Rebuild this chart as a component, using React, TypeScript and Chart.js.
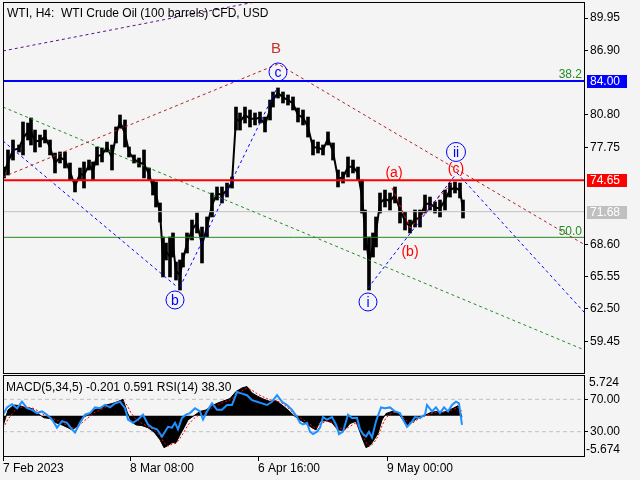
import React, { useEffect, useRef } from "react";
import { Chart, registerables } from "chart.js";

Chart.register(...registerables);

const FONT = "'Liberation Sans', Arial, sans-serif";
const BG = "#f4f4f4";

// ---------- shared time axis (H4 bar index from the left edge) ----------
const X_MAX = 581;
const timeTickIndex = [0, 127, 255, 384];
const timeTickLabels = ["7 Feb 2023", "8 Mar 08:00", "6 Apr 16:00", "9 May 00:00"];

// ---------- price bars ----------
const priceIndex = [1, 5, 10, 16, 20, 25, 28, 32, 37, 42, 47, 52, 57, 62, 67, 72, 77, 81, 86, 90, 94, 99, 104, 109, 113, 117, 122, 126, 131, 136, 141, 146, 150, 153, 157, 160, 163, 167, 170, 173, 177, 180, 184, 189, 194, 199, 204, 209, 214, 219, 224, 229, 233, 237, 242, 247, 252, 257, 262, 267, 270, 275, 280, 285, 290, 295, 300, 305, 310, 315, 320, 325, 330, 335, 340, 345, 350, 355, 359, 362, 366, 370, 373, 377, 382, 387, 392, 397, 402, 407, 412, 417, 422, 427, 432, 437, 442, 447, 452, 457, 460];
const priceHigh = [75.89, 77.5, 78.44, 77.97, 80.14, 80.04, 80.52, 79.38, 78.91, 79.38, 78.44, 77.21, 77.31, 77.31, 76.27, 74.67, 75.8, 76.37, 76.55, 76.37, 77.78, 77.69, 78.25, 77.97, 79.67, 80.8, 80.33, 77.78, 77.03, 76.74, 77.5, 75.8, 74.67, 74.48, 72.5, 69.29, 68.72, 69.29, 69.67, 66.93, 67.12, 67.78, 69.67, 70.89, 71.55, 70.23, 71.18, 73.44, 74.01, 74.01, 74.38, 74.95, 81.55, 80.99, 81.55, 81.27, 80.99, 81.08, 80.61, 82.21, 82.97, 83.35, 82.97, 82.69, 82.5, 81.46, 81.27, 80.61, 78.44, 78.25, 77.97, 79.2, 78.16, 75.61, 75.42, 76.84, 76.55, 75.89, 74.67, 71.84, 69.29, 69.67, 71.18, 73.44, 73.72, 73.44, 74.01, 73.06, 71.65, 70.89, 71.84, 71.84, 73.25, 73.06, 72.59, 72.78, 73.72, 74.38, 74.48, 74.38, 72.78];
const priceLow = [74.86, 75.14, 76.55, 77.31, 77.03, 78.44, 77.97, 77.31, 77.78, 78.16, 77.03, 75.33, 76.27, 75.8, 74.67, 73.54, 74.67, 73.91, 75.61, 74.67, 76.08, 76.37, 77.31, 75.61, 78.16, 79.57, 77.78, 76.84, 76.27, 75.89, 74.86, 74.67, 73.25, 72.12, 70.7, 65.52, 67.12, 65.52, 67.4, 65.23, 64.29, 66.46, 67.78, 69.01, 69.67, 66.84, 69.29, 71.18, 72.78, 72.5, 73.06, 73.91, 79.38, 79.38, 80.04, 79.67, 79.86, 80.04, 79.2, 80.33, 81.55, 82.4, 81.93, 81.74, 81.27, 80.14, 79.86, 78.72, 77.03, 77.21, 77.03, 77.97, 76.55, 74.01, 74.38, 74.95, 75.33, 74.67, 71.55, 68.06, 64.29, 67.4, 68.35, 71.55, 72.12, 71.84, 72.5, 70.61, 69.95, 69.67, 70.23, 70.23, 71.55, 71.84, 71.55, 71.18, 71.84, 73.06, 73.44, 72.97, 71.08];

const PRICE_MIN = 56.46;
const PRICE_MAX = 91.46;
const priceTicks = [59.45, 62.5, 65.55, 68.6, 77.75, 80.8, 86.9, 89.95];

// ---------- horizontal levels ----------
const levelBlue = 84.0;
const levelRed = 74.65;
const levelCurrent = 71.68;
const levelFib50 = 69.26;
const fibLabel382 = "38.2";
const fibLabel50 = "50.0";

// ---------- trend lines [barIndex, price] ----------
const purpleLine = [[0, 86.84], [300, 92.34]];
const brownLine = [[0, 74.95], [275, 85.61], [581, 68.6]];
const greenLine = [[0, 81.55], [581, 58.65]];
const blueLine1 = [[0, 78.35], [173, 64.67]];
const blueLine2 = [[177, 64.57], [274, 83.35]];
const blueLine3 = [[365, 64.48], [453, 75.23]];
const blueLine4 = [[454, 75.33], [581, 62.21]];
const redSubLine = [[389, 73.91], [407, 70.14], [452, 74.67]];

// ---------- wave labels ----------
const waveText = ["B", "c", "b", "i", "ii", "(a)", "(b)", "(c)"];
const waveIndex = [273, 275, 172, 365, 453, 391, 407, 453];
const wavePrice = [87.12, 84.86, 63.35, 63.16, 77.31, 75.42, 67.97, 75.8];
const waveCircled = [false, true, true, true, true, false, false, false];
const waveColor = ["#c83030", "#0000ff", "#0000ff", "#0000ff", "#0000ff", "#ff0000", "#ff0000", "#ff0000"];

// ---------- MACD ----------
const MACD_MIN = -5.674;
const MACD_MAX = 5.724;
const macdIndex = [0, 5, 11, 17, 23, 29, 35, 41, 47, 53, 59, 65, 69, 74, 79, 85, 91, 97, 103, 109, 115, 120, 124, 128, 133, 139, 145, 151, 157, 161, 165, 169, 173, 177, 181, 185, 191, 197, 203, 209, 215, 221, 227, 233, 239, 244, 249, 255, 261, 267, 273, 279, 285, 291, 297, 303, 309, 313, 317, 323, 329, 335, 341, 347, 353, 359, 363, 367, 371, 375, 379, 383, 389, 395, 400, 405, 410, 415, 421, 427, 433, 439, 445, 451, 455, 459];
const macdValues = [-1.5, 0.8, 1.5, 1.4, 1.1, 1.0, 0.3, -0.3, -0.4, -1.0, -1.3, -1.7, -2.0, -1.5, -0.3, 0.1, 0.8, 1.1, 1.5, 1.7, 2.0, 2.3, 0.6, -0.8, -1.3, -1.4, -1.7, -2.3, -3.4, -4.5, -4.2, -3.8, -3.8, -2.7, -1.7, -0.6, 0, 0.6, 0.8, 1.4, 1.8, 2.1, 2.4, 3.4, 3.9, 4.1, 3.2, 2.7, 2.3, 2.0, 2.1, 1.5, 0.8, 0, -0.6, -1.1, -1.7, -2.0, -0.8, -0.7, -1.0, -2.0, -2.1, -1.1, -0.8, -3.1, -4.5, -4.2, -3.4, -2.5, -0.6, 0.3, 0.6, 0.4, -0.6, -1.3, -0.8, -0.3, 0, 0.4, 0.6, 0.4, 0.7, 1.1, 1.4, -0.2];
const signalValues = [-1.8, -0.5, 0.6, 1.2, 1.2, 1.1, 0.7, 0.1, -0.2, -0.6, -1.0, -1.4, -1.7, -1.7, -1.0, -0.3, 0.4, 0.8, 1.2, 1.5, 1.8, 2.1, 1.5, 0.4, -0.5, -1.1, -1.5, -2.0, -2.8, -3.8, -4.3, -4.0, -3.9, -3.2, -2.3, -1.3, -0.4, 0.2, 0.6, 1.1, 1.5, 1.9, 2.2, 2.9, 3.5, 3.9, 3.6, 3.0, 2.6, 2.2, 2.1, 1.8, 1.1, 0.3, -0.3, -0.8, -1.4, -1.8, -1.2, -0.8, -0.9, -1.6, -2.0, -1.5, -1.0, -2.3, -3.8, -4.3, -3.8, -2.9, -1.4, -0.3, 0.4, 0.5, -0.2, -0.9, -1.0, -0.5, -0.1, 0.2, 0.5, 0.5, 0.6, 0.9, 1.2, 0.59];

// ---------- RSI ----------
const rsiIndex = [0, 4, 9, 14, 19, 24, 29, 34, 39, 44, 49, 54, 59, 64, 69, 72, 77, 82, 87, 92, 97, 102, 107, 112, 117, 122, 125, 130, 135, 140, 145, 149, 154, 159, 162, 165, 169, 172, 175, 179, 183, 187, 192, 197, 200, 204, 209, 214, 219, 224, 229, 234, 239, 244, 249, 254, 259, 264, 269, 274, 279, 284, 289, 294, 297, 300, 304, 307, 310, 314, 317, 320, 324, 329, 333, 336, 340, 345, 349, 354, 357, 360, 363, 366, 369, 373, 378, 382, 387, 392, 397, 400, 404, 408, 412, 417, 422, 424, 429, 433, 437, 441, 445, 449, 453, 456, 459];
const rsiValues = [51, 60, 64, 59, 67, 59, 57, 53, 55, 51, 45, 35, 43, 41, 33, 29, 41, 51, 53, 60, 59, 63, 60, 65, 67, 59, 45, 41, 45, 51, 39, 35, 33, 24, 30, 36, 35, 41, 33, 47, 51, 53, 59, 55, 45, 55, 65, 57, 57, 63, 63, 79, 77, 75, 69, 67, 65, 63, 67, 75, 67, 63, 57, 48, 41, 39, 41, 30, 27, 30, 35, 48, 45, 48, 39, 27, 30, 51, 47, 47, 33, 27, 24, 30, 23, 43, 60, 59, 60, 55, 53, 45, 36, 41, 48, 47, 51, 63, 55, 60, 53, 60, 55, 63, 67, 65, 38.3];
const rsiLevels = [70, 30];

const headerText = "WTI, H4:  WTI Crude Oil (100 barrels) CFD, USD";
const macdHeader = "MACD(5,34,5) -0.201 0.591 RSI(14) 38.30";

const pts = (arr: number[][]) => arr.map(([x, y]) => ({ x, y }));

function frame(chart: any) {
  const { ctx, chartArea: a } = chart;
  ctx.save();
  ctx.strokeStyle = "#000";
  ctx.lineWidth = 1;
  const x1 = Math.round(a.left) + 0.5;
  const y1 = Math.round(a.top) + 0.5;
  const x2 = Math.round(a.right) + 0.5;
  const y2 = Math.round(a.bottom) + 0.5;
  ctx.strokeRect(x1, y1, x2 - x1, y2 - y1);
  ctx.restore();
}

const dotted = (data: number[][], color: string) => ({
  type: "line" as const,
  data: pts(data),
  borderColor: color,
  borderWidth: 1,
  borderDash: [3, 3],
  pointRadius: 0,
  fill: false,
  order: 1,
});

const level = (v: number, color: string, width: number) => ({
  type: "line" as const,
  data: [{ x: 0, y: v }, { x: X_MAX, y: v }],
  borderColor: color,
  borderWidth: width,
  pointRadius: 0,
  fill: false,
  order: 2,
});

const noPad = (s: any) => {
  s.paddingTop = 0;
  s.paddingBottom = 0;
};

export default function App() {
  const mainRef = useRef<HTMLCanvasElement>(null);
  const macdRef = useRef<HTMLCanvasElement>(null);

  useEffect(() => {
    Chart.defaults.font.family = FONT;
    Chart.defaults.color = "#000";

    const mainPlugin = {
      id: "mainDecor",
      afterDatasetsDraw(chart: any) {
        const { ctx } = chart;
        const xs = chart.scales.x;
        const ys = chart.scales.y;
        ctx.save();
        ctx.fillStyle = "#000";
        ctx.font = `12px ${FONT}`;
        ctx.textAlign = "left";
        ctx.textBaseline = "alphabetic";
        ctx.fillText(headerText, 7, 16.5);
        ctx.fillStyle = "#228b22";
        ctx.textAlign = "right";
        ctx.fillText(fibLabel382, 582, ys.getPixelForValue(levelBlue) - 3);
        ctx.fillText(fibLabel50, 582, ys.getPixelForValue(levelFib50) - 2);
        ctx.textAlign = "center";
        ctx.textBaseline = "middle";
        waveText.forEach((t, i) => {
          const px = xs.getPixelForValue(waveIndex[i]);
          const py = ys.getPixelForValue(wavePrice[i]);
          ctx.font = `${t === "B" ? 15 : 14}px ${FONT}`;
          if (waveCircled[i]) {
            ctx.beginPath();
            ctx.arc(px, py, t === "ii" ? 9.5 : 9, 0, Math.PI * 2);
            ctx.strokeStyle = waveColor[i];
            ctx.lineWidth = 1;
            ctx.stroke();
          }
          ctx.fillStyle = waveColor[i];
          ctx.fillText(t, px, py + 1);
        });
        ctx.restore();
      },
      afterDraw(chart: any) {
        frame(chart);
        const { ctx } = chart;
        const ys = chart.scales.y;
        ctx.save();
        ctx.font = `12px ${FONT}`;
        ctx.textAlign = "left";
        ctx.textBaseline = "middle";
        const boxes: [number, string][] = [
          [levelBlue, "#0000ff"],
          [levelRed, "#ff0000"],
          [levelCurrent, "#c0c0c0"],
        ];
        boxes.forEach(([v, c]) => {
          const py = Math.round(ys.getPixelForValue(v));
          ctx.fillStyle = c;
          ctx.fillRect(587, py - 6, 40, 13);
          ctx.fillStyle = "#fff";
          ctx.fillText(v.toFixed(2), 590, py + 1);
        });
        ctx.restore();
      },
    };

    const main = new Chart(mainRef.current!, {
      type: "bar",
      data: {
        datasets: [
          {
            type: "bar",
            data: priceIndex.map((x, i) => ({ x, y: [priceLow[i], priceHigh[i]] })) as any,
            backgroundColor: "#000",
            borderWidth: 0,
            barThickness: 3,
            grouped: false,
            order: 10,
          } as any,
          {
            type: "line",
            data: priceIndex.map((x, i) => ({ x, y: (priceLow[i] + priceHigh[i]) / 2 })),
            borderColor: "#000",
            borderWidth: 2,
            pointRadius: 0,
            fill: false,
            order: 9,
          },
          level(levelCurrent, "#c0c0c0", 1),
          level(levelFib50, "#228b22", 1),
          dotted(purpleLine, "#5a0f8c"),
          dotted(brownLine, "#b22222"),
          dotted(greenLine, "#228b22"),
          dotted(blueLine1, "#0000ff"),
          dotted(blueLine2, "#0000ff"),
          dotted(blueLine3, "#0000ff"),
          dotted(blueLine4, "#0000ff"),
          dotted(redSubLine, "#ff0000"),
          { ...level(levelBlue, "#0000ff", 2), order: 0 },
          { ...level(levelRed, "#ff0000", 2), order: 0 },
        ] as any,
      },
      options: {
        animation: false,
        responsive: false,
        maintainAspectRatio: false,
        layout: { padding: { left: 3, top: 2, right: 0, bottom: 3 } },
        plugins: { legend: { display: false }, tooltip: { enabled: false } },
        scales: {
          x: { type: "linear", min: 0, max: X_MAX, display: false, offset: false },
          y: {
            type: "linear",
            position: "right",
            min: PRICE_MIN,
            max: PRICE_MAX,
            afterBuildTicks: (s: any) => {
              s.ticks = priceTicks.map((v) => ({ value: v }));
            },
            afterFit: (s: any) => {
              s.width = 56;
              noPad(s);
            },
            grid: { drawOnChartArea: false, drawTicks: true, tickLength: 4, color: "#000" },
            border: { display: false },
            ticks: {
              color: "#000",
              font: { family: FONT, size: 12 },
              padding: 2,
              callback: (v: any) => Number(v).toFixed(2),
            },
          },
        },
      } as any,
      plugins: [mainPlugin],
    });

    const macdPlugin = {
      id: "macdDecor",
      afterDraw(chart: any) {
        frame(chart);
        const { ctx, chartArea: a } = chart;
        ctx.save();
        ctx.fillStyle = "#000";
        ctx.font = `12px ${FONT}`;
        ctx.textAlign = "left";
        ctx.textBaseline = "alphabetic";
        ctx.fillText(macdHeader, 6, 17);
        ctx.textBaseline = "middle";
        ctx.fillText(MACD_MAX.toFixed(3), 589, a.top + 8);
        ctx.fillText(MACD_MIN.toFixed(3), 586, a.bottom - 6);
        ctx.restore();
      },
    };

    const macd = new Chart(macdRef.current!, {
      type: "line",
      data: {
        datasets: [
          ...rsiLevels.map((v) => ({
            data: [{ x: 0, y: v }, { x: X_MAX, y: v }],
            borderColor: "#c0c0c0",
            borderWidth: 1,
            borderDash: [4, 3],
            pointRadius: 0,
            yAxisID: "y2",
            order: 5,
          })),
          {
            data: macdIndex.map((x, i) => ({ x, y: macdValues[i] })),
            borderColor: "#000",
            backgroundColor: "#000",
            borderWidth: 1,
            fill: "origin",
            pointRadius: 0,
            yAxisID: "y",
            order: 4,
          },
          {
            data: macdIndex.map((x, i) => ({ x, y: signalValues[i] })),
            borderColor: "#ff0000",
            borderWidth: 1,
            borderDash: [2, 2],
            pointRadius: 0,
            yAxisID: "y",
            order: 3,
          },
          {
            data: rsiIndex.map((x, i) => ({ x, y: rsiValues[i] })),
            borderColor: "#1e90ff",
            borderWidth: 2,
            pointRadius: 0,
            yAxisID: "y2",
            order: 1,
          },
        ] as any,
      },
      options: {
        animation: false,
        responsive: false,
        maintainAspectRatio: false,
        layout: { padding: { left: 3, top: 1, right: 0, bottom: 0 } },
        plugins: { legend: { display: false }, tooltip: { enabled: false } },
        scales: {
          x: {
            type: "linear",
            min: 0,
            max: X_MAX,
            offset: false,
            afterBuildTicks: (s: any) => {
              s.ticks = timeTickIndex.map((v) => ({ value: v }));
            },
            afterFit: (s: any) => {
              s.height = 24;
              s.paddingLeft = 0;
              s.paddingRight = 0;
            },
            grid: { drawOnChartArea: false, drawTicks: true, tickLength: 5, color: "#000" },
            border: { display: false },
            ticks: {
              color: "#000",
              font: { family: FONT, size: 12 },
              align: "start",
              padding: 0,
              maxRotation: 0,
              autoSkip: false,
              callback: (v: any) => timeTickLabels[timeTickIndex.indexOf(Number(v))] ?? "",
            },
          },
          y: { type: "linear", min: MACD_MIN, max: MACD_MAX, display: false },
          y2: {
            type: "linear",
            position: "right",
            min: 0,
            max: 100,
            afterBuildTicks: (s: any) => {
              s.ticks = rsiLevels.map((v) => ({ value: v }));
            },
            afterFit: (s: any) => {
              s.width = 56;
              noPad(s);
            },
            grid: { drawOnChartArea: false, drawTicks: true, tickLength: 4, color: "#000" },
            border: { display: false },
            ticks: {
              color: "#000",
              font: { family: FONT, size: 12 },
              padding: 2,
              callback: (v: any) => Number(v).toFixed(2),
            },
          },
        },
      } as any,
      plugins: [macdPlugin],
    });

    return () => {
      main.destroy();
      macd.destroy();
    };
  }, []);

  return (
    <div style={{ position: "fixed", left: 0, top: 0, width: 640, height: 480, background: BG }}>
      <canvas ref={mainRef} width={640} height={376} style={{ position: "absolute", left: 0, top: 0 }} />
      <canvas ref={macdRef} width={640} height={106} style={{ position: "absolute", left: 0, top: 374 }} />
    </div>
  );
}
